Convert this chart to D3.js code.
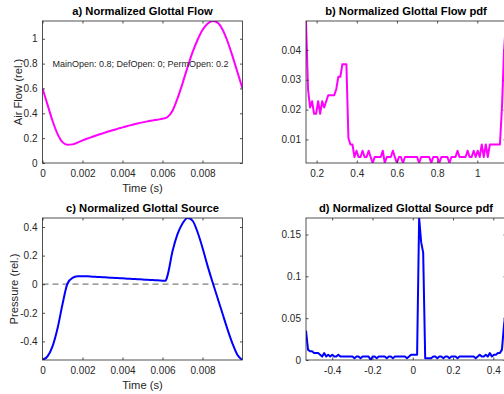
<!DOCTYPE html>
<html><head><meta charset="utf-8">
<script src="https://cdn.jsdelivr.net/npm/d3@7"></script>
<style>
body{margin:0;background:#fff}
svg{display:block}
text{font-family:"Liberation Sans",Arial,Helvetica,sans-serif}
</style>
</head><body><svg id="chart" width="504" height="394"></svg>
<script>
// ---- data ----
const time = [0,0.00025,0.0005,0.00075,0.001,0.00125,0.0015,0.00175,0.002,0.00225,0.0025,0.00275,0.003,0.00325,0.0035,0.00375,0.004,0.00425,0.0045,0.00475,0.005,0.00525,0.0055,0.00575,0.006,0.00615,0.00625,0.0065,0.00675,0.007,0.00725,0.0075,0.00775,0.008,0.00825,0.0085,0.00875,0.009,0.00925,0.0095,0.00975,0.01];
const flow = [0.600,0.470,0.340,0.235,0.168,0.147,0.150,0.164,0.182,0.197,0.211,0.225,0.238,0.251,0.263,0.275,0.287,0.298,0.308,0.318,0.327,0.335,0.342,0.349,0.356,0.362,0.370,0.420,0.520,0.640,0.770,0.890,0.990,1.070,1.120,1.143,1.130,1.075,0.980,0.860,0.730,0.600];
const source = [-0.530,-0.505,-0.435,-0.310,-0.140,0.005,0.045,0.055,0.056,0.055,0.053,0.051,0.049,0.047,0.045,0.043,0.041,0.039,0.037,0.035,0.033,0.031,0.029,0.027,0.025,0.024,0.060,0.230,0.350,0.425,0.463,0.445,0.365,0.255,0.130,0.015,-0.095,-0.205,-0.315,-0.415,-0.495,-0.530];
const flowPdf = [0.0497,0.0269,0.0207,0.0228,0.0186,0.0186,0.0228,0.0186,0.0228,0.0207,0.0228,0.0248,0.0248,0.0248,0.0248,0.0269,0.0310,0.0310,0.0352,0.0352,0.0352,0.0104,0.0083,0.0083,0.0041,
 0.0062,0.0041,0.0041,0.0062,0.0041,0.0041,0.0062,0.0041,0.0021,0.0041,0.0041,0.0041,0.0041,0.0062,0.0021,0.0041,0.0041,0.0041,0.0062,0.0041,0.0021,0.0041,0.0041,0.0021,0.0041,
 0.0041,0.0041,0.0041,0.0041,0.0041,0.0041,0.0021,0.0041,0.0041,0.0041,0.0041,0.0041,0.0021,0.0041,0.0041,0.0041,0.0021,0.0041,0.0041,0.0041,0.0041,0.0021,0.0041,0.0041,0.0041,
 0.0062,0.0041,0.0041,0.0041,0.0041,0.0062,0.0041,0.0041,0.0062,0.0041,0.0062,0.0041,0.0083,0.0041,0.0083,0.0041,0.0083,0.0083,0.0083,0.0083,0.0083,0.0083,0.0207,0.0393,0.0497];
const sourcePdf = [0.0352,0.0124,0.0104,0.0104,0.0083,0.0083,0.0083,0.0062,0.0041,0.0083,0.0041,0.0062,0.0041,0.0062,0.0041,0.0041,0.0062,0.0041,0.0041,0.0041,0.0041,0.0041,0.0041,0.0041,0.0021,
 0.0041,0.0041,0.0021,0.0041,0.0041,0.0041,0.0041,0,0.0041,0.0041,0.0021,0.0041,0.0041,0.0041,0.0041,0.0021,0.0041,0.0041,0.0021,0.0041,0.0041,0.0041,0.0041,0.0041,0.0041,
 0.0021,0.0041,0.0062,0.0062,0.0062,0.0062,0.1697,0.1408,0.1283,0.0021,0.0021,0.0021,0.0021,0.0041,0.0041,0.0021,0.0041,0.0041,0.0021,0.0041,0.0041,0.0021,0.0041,0.0041,0.0041,
 0.0021,0.0041,0.0041,0.0041,0.0041,0.0041,0.0041,0.0041,0.0041,0.0021,0.0041,0.0062,0.0041,0.0041,0.0062,0.0041,0.0083,0.0041,0.0062,0.0062,0.0083,0.0083,0.0124,0.0414,0.0620];

const timeTicks = [0,0.002,0.004,0.006,0.008];
const flowTicks = [0,0.2,0.4,0.6,0.8,1];
const flowPdfXTicks = [0.2,0.4,0.6,0.8,1];
const flowPdfYTicks = [0.01,0.02,0.03,0.04];
const sourceTicks = [-0.4,-0.2,0,0.2,0.4];
const sourcePdfXTicks = [-0.4,-0.2,0,0.2,0.4];
const sourcePdfYTicks = [0,0.05,0.1,0.15];
const titles = ["a) Normalized Glottal Flow","b) Normalized Glottal Flow pdf","c) Normalized Glottal Source","d) Normalized Glottal Source pdf"];
const annotation = "MainOpen: 0.8; DefOpen: 0; PermOpen: 0.2";

// ---- drawing ----
const svg = d3.select("#chart");
const fmt = d => String(+d.toFixed(4));
const AX = "#262626";
let clipN = 0;

function panel(o){
  const w = 200, h = 142;
  const g = svg.append("g").attr("transform",`translate(${o.left},${o.top})`);
  const id = "clip"+(clipN++);
  g.append("clipPath").attr("id",id).append("rect").attr("width",w).attr("height",h);
  const x = o.x.range([0,w]), y = o.y.range([h,0]);

  if(o.zeroLine){
    g.append("line").attr("x1",0).attr("x2",w).attr("y1",y(0)).attr("y2",y(0))
      .attr("stroke","#7f7f7f").attr("stroke-width",1.2).attr("stroke-dasharray","6,4");
  }
  g.append("path").datum(o.data).attr("clip-path",`url(#${id})`)
    .attr("fill","none").attr("stroke",o.color).attr("stroke-width",2).attr("stroke-linejoin","round")
    .attr("d", d3.line().x(d=>x(d[0])).y(d=>y(d[1])).curve(o.curve || d3.curveLinear));

  const styleAxis = sel => {
    sel.select(".domain").remove();
    sel.selectAll(".tick line").attr("stroke",AX).attr("stroke-width",0.8);
    sel.selectAll("text").attr("fill","#262626").attr("font-size",10)
      .style("font-family",'"Liberation Sans",Arial,Helvetica,sans-serif');
  };
  g.append("g").attr("transform",`translate(0,${h})`)
    .call(d3.axisBottom(x).tickValues(o.xTicks).tickFormat(fmt).tickSizeInner(-2.5).tickSizeOuter(0).tickPadding(7))
    .call(styleAxis);
  g.append("g")
    .call(d3.axisTop(x).tickValues(o.xTicks).tickFormat("").tickSizeInner(-2.5).tickSizeOuter(0))
    .call(styleAxis);
  g.append("g")
    .call(d3.axisLeft(y).tickValues(o.yTicks).tickFormat(fmt).tickSizeInner(-2.5).tickSizeOuter(0).tickPadding(5))
    .call(styleAxis);
  g.append("g").attr("transform",`translate(${w},0)`)
    .call(d3.axisRight(y).tickValues(o.yTicks).tickFormat("").tickSizeInner(-2.5).tickSizeOuter(0))
    .call(styleAxis);
  g.append("rect").attr("x",0).attr("y",0).attr("width",w).attr("height",h)
    .attr("fill","none").attr("stroke",AX).attr("stroke-width",0.8);

  g.append("text").attr("x",w/2).attr("y",-6).attr("text-anchor","middle")
    .attr("font-size",11.2).attr("font-weight","bold").attr("fill","#000").text(o.title);
  if(o.xLabel){
    g.append("text").attr("x",w/2).attr("y",h+29).attr("text-anchor","middle")
      .attr("font-size",11.2).attr("fill","#262626").text(o.xLabel);
  }
  if(o.yLabel){
    g.append("text").attr("transform",`translate(${-o.yLabelOff},${h/2}) rotate(-90)`).attr("text-anchor","middle")
      .attr("font-size",11.2).attr("fill","#262626").text(o.yLabel);
  }
  return {g,x,y};
}

const flowData = time.map((t,i)=>[t,flow[i]]);
const sourceData = time.map((t,i)=>[t,source[i]]);
const fExt = d3.extent(flow), sExt = d3.extent(source);
const flowPdfData = flowPdf.map((p,i)=>[fExt[0]+i*(fExt[1]-fExt[0])/(flowPdf.length-1), p]);
const sourcePdfData = sourcePdf.map((p,i)=>[sExt[0]+i*(sExt[1]-sExt[0])/(sourcePdf.length-1), p]);

const pa = panel({left:42.5,top:21,x:d3.scaleLinear().domain([0,0.01]),y:d3.scaleLinear().domain([0,fExt[1]]),
  xTicks:timeTicks,yTicks:flowTicks,title:titles[0],xLabel:"Time (s)",yLabel:"Air Flow (rel.)",yLabelOff:21,
  data:flowData,color:"#ff00ff",curve:d3.curveMonotoneX});
pa.g.append("text").attr("x",pa.x(0.0005)).attr("y",pa.y(0.8)+3.5).attr("font-size",9)
  .attr("fill","#262626").text(annotation);

panel({left:306,top:21,x:d3.scaleLinear().domain(fExt),y:d3.scaleLinear().domain(d3.extent(flowPdf)),
  xTicks:flowPdfXTicks,yTicks:flowPdfYTicks,title:titles[1],data:flowPdfData,color:"#ff00ff"});

panel({left:42.5,top:218,x:d3.scaleLinear().domain([0,0.01]),y:d3.scaleLinear().domain(sExt),
  xTicks:timeTicks,yTicks:sourceTicks,title:titles[2],xLabel:"Time (s)",yLabel:"Pressure (rel.)",yLabelOff:25,
  data:sourceData,color:"#0000ff",curve:d3.curveMonotoneX,zeroLine:true});

panel({left:306,top:218,x:d3.scaleLinear().domain(sExt),y:d3.scaleLinear().domain(d3.extent(sourcePdf)),
  xTicks:sourcePdfXTicks,yTicks:sourcePdfYTicks,title:titles[3],data:sourcePdfData,color:"#0000ff"});
</script>
</body></html>
